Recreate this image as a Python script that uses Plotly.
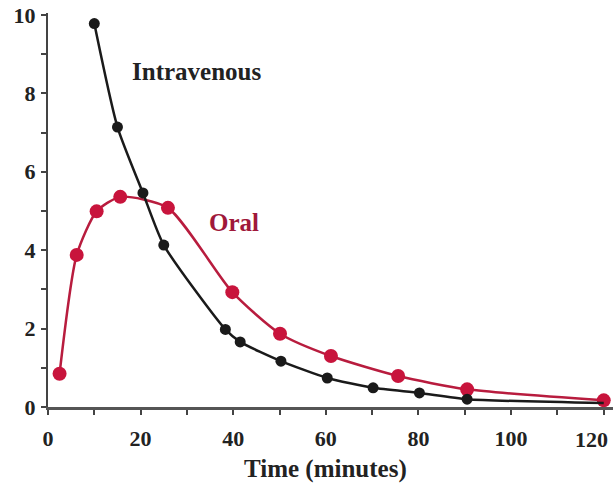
import plotly.graph_objects as go

# Intravenous (black) — the 120 min value only extends the line (no marker)
iv_time = [10, 15, 20.5, 25, 38.3, 41.5, 50.3, 60.3, 70.2, 80.2, 90.5, 120]
iv_conc = [9.78, 7.14, 5.46, 4.13, 1.98, 1.66, 1.17, 0.74, 0.49, 0.36, 0.2, 0.1]
iv_n_markers = 11

# Oral (red)
oral_time = [2.5, 6.2, 10.5, 15.6, 25.9, 39.8, 50.1, 61.1, 75.6, 90.5, 120]
oral_conc = [0.85, 3.88, 4.99, 5.36, 5.08, 2.93, 1.87, 1.3, 0.79, 0.45, 0.17]

x_ticks = list(range(0, 121, 10))
x_labels = [str(v) if (v % 20 == 0 and v < 120) else "" for v in x_ticks]
y_ticks = list(range(0, 11))
y_labels = [str(v) if v % 2 == 0 else "" for v in y_ticks]

BLACK = "#1a1a1a"
RED = "#b81c3e"
FONT = "Liberation Serif"
TXT = "#222222"
TICK_SIZE = 22
LABEL_SIZE = 25

fig = go.Figure()
fig.add_trace(go.Scatter(
    x=oral_time, y=oral_conc, mode="lines+markers",
    line=dict(color=RED, width=2.5, shape="spline", smoothing=0.65),
    marker=dict(color="#c8143c", size=14),
    showlegend=False, cliponaxis=False,
))
fig.add_trace(go.Scatter(
    x=iv_time, y=iv_conc, mode="lines",
    line=dict(color=BLACK, width=2.5, shape="spline", smoothing=0.6),
    showlegend=False, cliponaxis=False,
))
fig.add_trace(go.Scatter(
    x=iv_time[:iv_n_markers], y=iv_conc[:iv_n_markers], mode="markers",
    marker=dict(color=BLACK, size=11),
    showlegend=False, cliponaxis=False,
))

fig.add_annotation(x=32, y=8.55, text="<b>Intravenous</b>", showarrow=False,
                   font=dict(family=FONT, size=LABEL_SIZE, color=TXT))
fig.add_annotation(x=40.2, y=4.7, text="<b>Oral</b>", showarrow=False,
                   font=dict(family=FONT, size=LABEL_SIZE, color="#a0183a"))
# last x tick label, nudged left to stay inside the page as in the reference
fig.add_annotation(x=x_ticks[-1], xref="x", y=0, yref="paper", yanchor="middle",
                   text="<b>%d</b>" % x_ticks[-1], showarrow=False, xshift=-12, yshift=-32,
                   font=dict(family=FONT, size=TICK_SIZE, color=TXT))
fig.add_annotation(x=60, xref="x", y=0, yref="paper", yanchor="middle",
                   text="<b>Time (minutes)</b>", showarrow=False, yshift=-62,
                   font=dict(family=FONT, size=LABEL_SIZE, color=TXT))

fig.update_layout(
    width=613, height=486,
    margin=dict(l=48, r=0, t=13, b=79),
    paper_bgcolor="white", plot_bgcolor="white",
    font=dict(family=FONT, size=18, color=TXT),
)
fig.update_xaxes(
    range=[0, 122], tickvals=x_ticks, ticktext=x_labels,
    ticks="outside", ticklen=5, tickwidth=2, tickcolor="#444444",
    showline=True, linecolor="#555555", linewidth=3,
    showgrid=False, zeroline=False,
    tickfont=dict(family=FONT, size=TICK_SIZE, color=TXT, weight="bold"),
    ticklabelstandoff=5,
)
fig.update_yaxes(
    range=[0, 10.05], tickvals=y_ticks, ticktext=y_labels,
    ticks="outside", ticklen=5, tickwidth=2, tickcolor="#444444",
    showline=True, linecolor="#444444", linewidth=2,
    showgrid=False, zeroline=False,
    tickfont=dict(family=FONT, size=TICK_SIZE, color=TXT, weight="bold"),
    ticklabelstandoff=1,
)

fig.write_html("out.html")
